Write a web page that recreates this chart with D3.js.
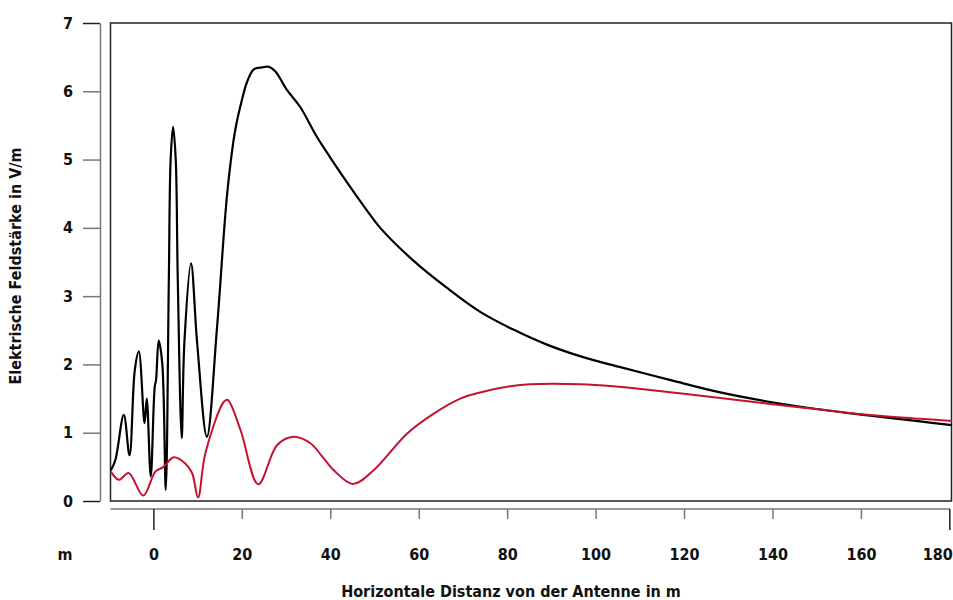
<!DOCTYPE html>
<html>
<head>
<meta charset="utf-8">
<script src="https://cdn.jsdelivr.net/npm/d3@7"></script>
<style>
  body{margin:0;background:#fff;}
  svg text{font-family:"DejaVu Sans Condensed","DejaVu Sans",sans-serif;font-weight:bold;fill:#111;}
</style>
</head>
<body>
<div id="chart"></div>
<script>
// Feldstärke über horizontaler Distanz
var blackX=[-9.6,-8.6,-6.7,-5.4,-4.2,-3.3,-2.0,-1.5,-0.6,0.3,0.6,1.2,2.0,2.8,3.5,3.9,4.45,5.05,5.5,6.4,7.0,8.5,9.9,12.1,14.4,16.7,18.5,20.0,21.2,22.7,24.6,26.1,27.6,30.2,33.2,37.0,40.0,44.5,47.9,51.3,58.8,66.4,73.9,81.4,89.0,97.0,105.6,117.0,128.2,139.5,150.8,162.1,173.4,180.6];
var blackY=[0.45,0.60,1.26,0.67,1.92,2.19,1.14,1.50,0.36,1.67,1.77,2.35,2.02,0.16,3.29,5.0,5.48,5.0,3.29,0.92,2.31,3.48,2.31,0.94,2.55,4.51,5.43,5.87,6.14,6.32,6.35,6.36,6.29,6.02,5.77,5.33,5.03,4.60,4.29,4.00,3.52,3.12,2.77,2.51,2.29,2.11,1.96,1.77,1.59,1.45,1.34,1.25,1.165,1.11];

var redX=[-9.6,-7.8,-5.6,-2.3,0.45,2.3,4.6,7.2,8.75,10.1,11.75,15.9,16.8,19.7,23.7,28.0,31.7,35.5,38.2,40.8,45.1,49.8,57.4,63.4,69.4,73.9,80.7,85.2,96.5,104.0,112.3,128.2,139.5,150.8,162.1,173.4,180.6];
var redY=[0.43,0.31,0.41,0.08,0.43,0.50,0.64,0.55,0.41,0.05,0.70,1.45,1.48,1.04,0.245,0.82,0.94,0.845,0.65,0.45,0.25,0.45,0.99,1.28,1.50,1.59,1.68,1.71,1.71,1.68,1.625,1.51,1.42,1.34,1.26,1.205,1.17];

var xTicks=[0,20,40,60,80,100,120,140,160,180];
var yTicks=[0,1,2,3,4,5,6,7];

var width=953, height=600;
var svg=d3.select("#chart").append("svg").attr("width",width).attr("height",height);

var x=d3.scaleLinear().domain([-9.7,180.6]).range([110.5,952]);
var y=d3.scaleLinear().domain([0,7]).range([501,23]);

// Rahmen
svg.append("rect")
  .attr("x",110.5).attr("y",23)
  .attr("width",841).attr("height",478)
  .attr("fill","none").attr("stroke","#222").attr("stroke-width",1.5);

// y-Achse
var yAxis=svg.append("g").attr("transform","translate(100,0)")
  .call(d3.axisLeft(y).tickValues(yTicks).tickFormat(d3.format("d")).tickSize(17).tickSizeOuter(0));
yAxis.select(".domain").attr("stroke","#777").attr("stroke-width",1.5);
yAxis.selectAll(".tick line").attr("stroke",function(d){return (d==0||d==7)?"#222":"#777";}).attr("stroke-width",1.5);
yAxis.selectAll(".tick text").attr("text-anchor","middle").attr("x",-32).style("font-size","16px");

// x-Achse
var xAxis=svg.append("g").attr("transform","translate(0,509)")
  .call(d3.axisBottom(x).tickValues(xTicks).tickSize(10).tickSizeOuter(0));
xAxis.select(".domain").attr("stroke","#777").attr("stroke-width",1.5)
  .attr("d","M110.5,0H950");
xAxis.selectAll(".tick line")
  .attr("y2",function(d){return (d==0||d==180)?21:10;})
  .attr("stroke",function(d){return (d==0||d==180)?"#222":"#777";}).attr("stroke-width",1.5);
xAxis.selectAll(".tick text").attr("y",45).attr("dy","0.35em").style("font-size","16px")
  .attr("text-anchor",function(d){return d==180?"end":"middle";})
  .attr("x",function(d){return d==180?3:0;});

svg.append("text").attr("x",65).attr("y",554).attr("dy","0.35em")
  .attr("text-anchor","middle").style("font-size","16px").text("m");

// Titel
svg.append("text").attr("x",511).attr("y",591).attr("dy","0.35em")
  .attr("text-anchor","middle").style("font-size","16px")
  .text("Horizontale Distanz von der Antenne in m");
svg.append("text").attr("transform","translate(15,266) rotate(-90)").attr("dy","0.35em")
  .attr("text-anchor","middle").style("font-size","16px")
  .text("Elektrische Feldstärke in V/m");

// Kurven
var line=d3.line().x(function(d){return x(d[0]);}).y(function(d){return y(d[1]);}).curve(d3.curveCatmullRom.alpha(0.5));

var redData=d3.zip(redX,redY);
var blackData=d3.zip(blackX,blackY);

svg.append("path").datum(blackData)
  .attr("d",line).attr("fill","none").attr("stroke","#000").attr("stroke-width",2.2);
svg.append("path").datum(redData)
  .attr("d",line).attr("fill","none").attr("stroke","#c4122f").attr("stroke-width",2);
</script>
</body>
</html>
